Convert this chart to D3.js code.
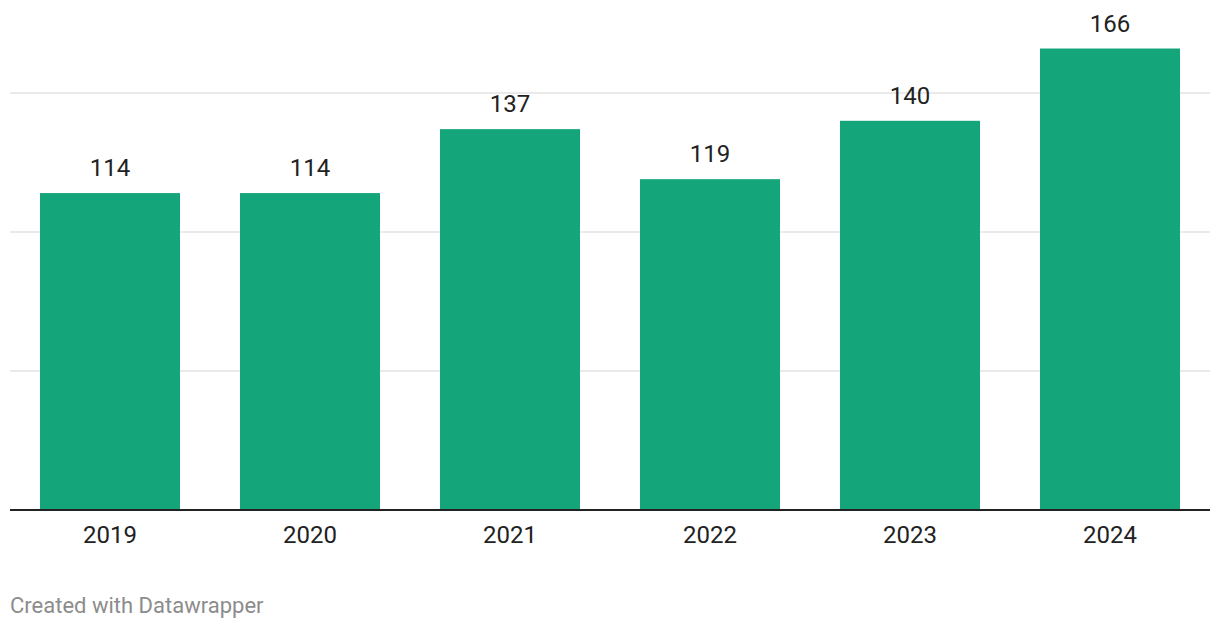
<!DOCTYPE html>
<html><head><meta charset="utf-8">
<script src="https://cdn.jsdelivr.net/npm/d3@7"></script>
<style>
body{margin:0;background:#fff;}
text{font-family:Roboto, sans-serif;}
</style></head>
<body>
<svg id="c" width="1220" height="630"></svg>
<script>
const categories = ["2019","2020","2021","2022","2023","2024"];
const values = [114,114,137,119,140,166];
const gridTicks = [50,100,150];

const svg = d3.select("#c");
const left = 10, right = 1210, baseY = 510;
const x = d3.scaleBand().domain(categories).range([left, right]).paddingInner(0.3).paddingOuter(0.15);
const y = d3.scaleLinear().domain([0,150]).range([baseY, 93]);

svg.append("g").selectAll("line").data(gridTicks).join("line")
  .attr("x1", left).attr("x2", right)
  .attr("y1", d=>y(d)).attr("y2", d=>y(d))
  .attr("stroke","#e3e3e3").attr("stroke-width",1.5);

svg.append("g").selectAll("rect").data(values).join("rect")
  .attr("x",(d,i)=>x(categories[i]))
  .attr("width",x.bandwidth())
  .attr("y",d=>y(d))
  .attr("height",d=>baseY-y(d))
  .attr("fill","#14a57a");

svg.append("line").attr("x1",left).attr("x2",right).attr("y1",baseY).attr("y2",baseY)
  .attr("stroke","#222").attr("stroke-width",2);

svg.append("g").selectAll("text").data(values).join("text")
  .attr("x",(d,i)=>x(categories[i])+x.bandwidth()/2)
  .attr("y",d=>y(d)-17)
  .attr("text-anchor","middle")
  .attr("font-size",24)
  .attr("fill","#222")
  .text(d=>d);

svg.append("g").selectAll("text").data(categories).join("text")
  .attr("x",d=>x(d)+x.bandwidth()/2)
  .attr("y",542.5)
  .attr("text-anchor","middle")
  .attr("font-size",24)
  .attr("fill","#222")
  .text(d=>d);

svg.append("text").attr("x",10).attr("y",613)
  .attr("font-size",22).attr("fill","#8c8c8c")
  .text("Created with Datawrapper");
</script>
</body></html>
